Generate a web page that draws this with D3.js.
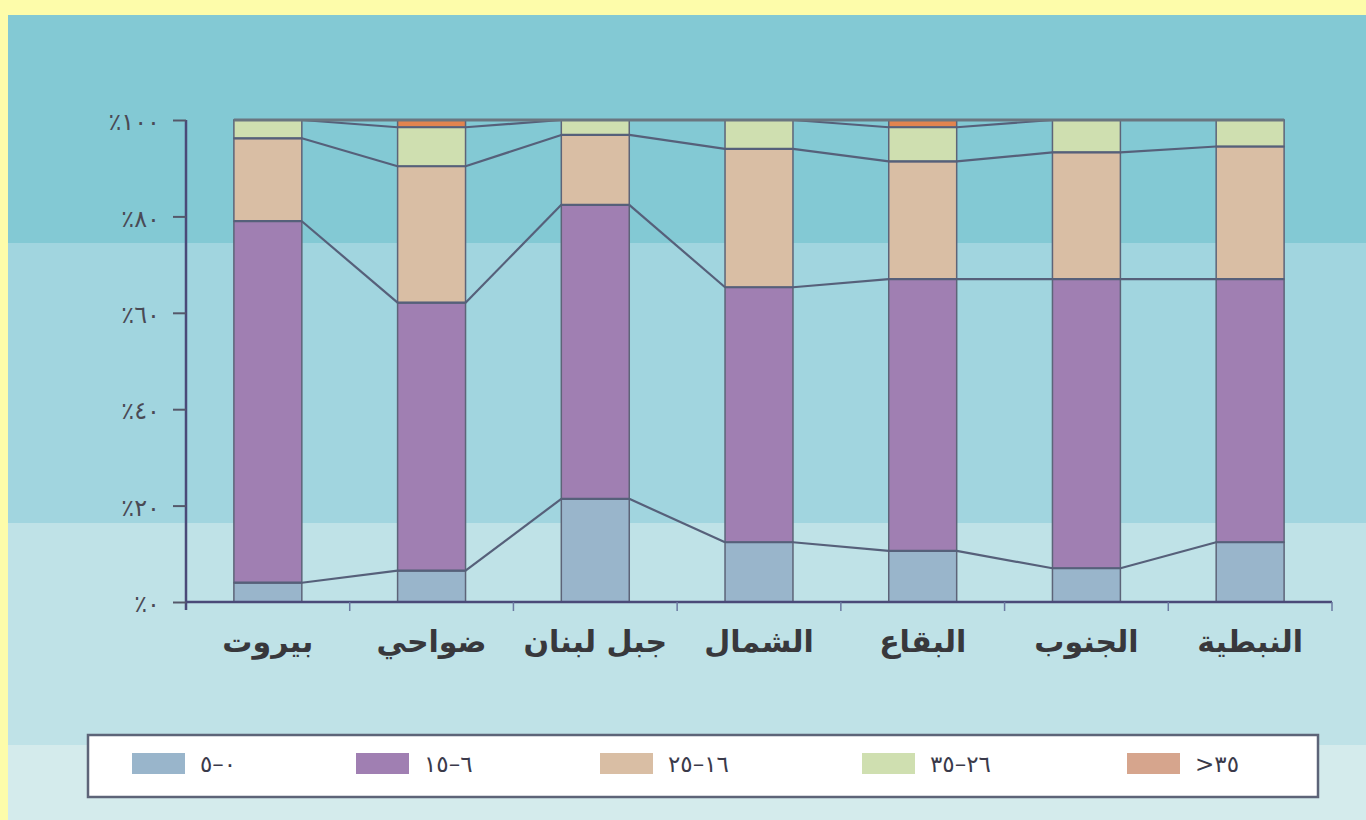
<!DOCTYPE html>
<html>
<head>
<meta charset="utf-8">
<script src="https://cdn.jsdelivr.net/npm/d3@7"></script>
<style>
  html, body { margin: 0; padding: 0; background: #fdfcaa; }
  svg { display: block; }
</style>
</head>
<body>
<div id="chart"></div>
<script>
// regions (left to right as drawn)
var regions = ["بيروت", "ضواحي", "جبل لبنان", "الشمال", "البقاع", "الجنوب", "النبطية"];

// share of each age group, in percent
var age0to5   = [4.0, 6.5, 21.4, 12.4, 10.6, 7.0, 12.4];
var age6to15  = [75.0, 55.6, 61.0, 52.9, 56.4, 60.0, 54.6];
var age16to25 = [17.2, 28.3, 14.5, 28.7, 24.4, 26.3, 27.5];
var age26to35 = [3.8, 8.1, 3.1, 6.0, 7.1, 6.7, 5.5];
var age35plus = [0, 1.5, 0, 0, 1.5, 0, 0];

var seriesKeys = ["a", "b", "c", "d", "e"];
var legendLabels = ["٥–٠", "١٥–٦", "٢٥–١٦", "٣٥–٢٦", ">٣٥"];
var yTicks = [0, 20, 40, 60, 80, 100];
var yTickLabels = ["٪٠", "٪٢٠", "٪٤٠", "٪٦٠", "٪٨٠", "٪١٠٠"];

var barColors = ["#99b5cb", "#a07fb2", "#d9bea4", "#cfdfb0", "#e2844f"];
var swatchColors = ["#99b5cb", "#a07fb2", "#d9bea4", "#cfdfb0", "#d6a58d"];

(function() {
  var W = 1366, H = 820;

  var rows = regions.map(function(r, i) {
    return {region: r, a: age0to5[i], b: age6to15[i], c: age16to25[i], d: age26to35[i], e: age35plus[i]};
  });
  var stacked = d3.stack().keys(seriesKeys)(rows);

  var svg = d3.select("#chart").append("svg")
    .attr("width", W).attr("height", H);

  // background panel with horizontal bands
  var bands = [
    {y0: 15, y1: 243, c: "#83c9d4"},
    {y0: 243, y1: 523, c: "#a1d5df"},
    {y0: 523, y1: 745, c: "#bfe2e7"},
    {y0: 745, y1: 820, c: "#d4ebec"}
  ];
  svg.selectAll("rect.band").data(bands).enter().append("rect")
    .attr("class", "band")
    .attr("x", 8).attr("y", function(d) { return d.y0; })
    .attr("width", W - 8).attr("height", function(d) { return d.y1 - d.y0; })
    .attr("fill", function(d) { return d.c; });

  var plotL = 186, plotR = 1332, plotT = 120, plotB = 602;

  var x = d3.scaleBand().domain(regions).range([plotL, plotR])
    .paddingInner(0.585).paddingOuter(0.2925);
  var y = d3.scaleLinear().domain([0, 100]).range([plotB, plotT]);
  var bw = x.bandwidth();
  var step = x.step();

  var g = svg.append("g");

  // bars
  stacked.forEach(function(s, k) {
    g.selectAll("rect.s" + k).data(s).enter().append("rect")
      .attr("class", "s" + k)
      .attr("x", function(d) { return x(d.data.region); })
      .attr("y", function(d) { return y(d[1]); })
      .attr("width", bw)
      .attr("height", function(d) { return Math.max(0, y(d[0]) - y(d[1])); })
      .attr("fill", barColors[k])
      .attr("stroke", "#5d6478")
      .attr("stroke-width", 1.5);
  });

  // connector lines between neighbouring bars
  stacked.forEach(function(s) {
    for (var i = 0; i < s.length - 1; i++) {
      var a = s[i], b = s[i + 1];
      g.append("line")
        .attr("x1", x(a.data.region) + bw).attr("y1", y(a[1]))
        .attr("x2", x(b.data.region)).attr("y2", y(b[1]))
        .attr("stroke", "#56607a")
        .attr("stroke-width", 2.2);
    }
  });

  // rule across each bar at each boundary
  stacked.forEach(function(s, k) {
    g.selectAll("line.h" + k).data(s).enter().append("line")
      .attr("class", "h" + k)
      .attr("x1", function(d) { return x(d.data.region); })
      .attr("x2", function(d) { return x(d.data.region) + bw; })
      .attr("y1", function(d) { return y(d[1]); })
      .attr("y2", function(d) { return y(d[1]); })
      .attr("stroke", "#56607a").attr("stroke-width", 2.2);
  });

  // top rule at 100%
  g.append("line")
    .attr("x1", x(regions[0])).attr("x2", x(regions[regions.length - 1]) + bw)
    .attr("y1", y(100)).attr("y2", y(100))
    .attr("stroke", "#6a7680").attr("stroke-width", 3);

  // y axis
  var yAxis = svg.append("g")
    .attr("transform", "translate(" + plotL + ",0)")
    .call(d3.axisLeft(y).tickValues(yTicks).tickSize(13)
      .tickFormat(function(d, i) { return yTickLabels[i]; }));
  yAxis.select(".domain").attr("stroke", "#4a4a78").attr("stroke-width", 2.5)
    .attr("d", "M0," + plotT + "V" + (plotB + 8));
  yAxis.selectAll(".tick line").attr("stroke", "#55586a").attr("stroke-width", 2);
  yAxis.selectAll(".tick text")
    .attr("x", -26)
    .attr("dy", "0.4em")
    .attr("fill", "#4a4a55")
    .style("font-family", "DejaVu Sans")
    .style("font-size", "24px")
    .style("letter-spacing", "3px")
    .style("direction", "ltr")
    .style("unicode-bidi", "bidi-override");

  // x axis
  var xAxis = svg.append("g");
  xAxis.append("line")
    .attr("x1", plotL).attr("x2", plotR)
    .attr("y1", plotB).attr("y2", plotB)
    .attr("stroke", "#4a4a78").attr("stroke-width", 2.5);
  var edges = regions.map(function(r) { return x(r) + bw / 2 - step / 2; });
  edges.push(plotR);
  xAxis.selectAll("line.tk").data(edges.slice(1)).enter().append("line")
    .attr("class", "tk")
    .attr("x1", function(d) { return d; }).attr("x2", function(d) { return d; })
    .attr("y1", plotB).attr("y2", plotB + 9)
    .attr("stroke", "#6a78a0").attr("stroke-width", 1.5);
  xAxis.selectAll("text").data(regions).enter().append("text")
    .attr("x", function(d) { return x(d) + bw / 2; })
    .attr("y", 652)
    .attr("text-anchor", "middle")
    .attr("fill", "#38383c")
    .style("font-family", "DejaVu Sans")
    .style("font-weight", "bold")
    .style("font-size", "30px")
    .text(function(d) { return d; });

  // legend
  var legend = svg.append("g");
  legend.append("rect")
    .attr("x", 88).attr("y", 735).attr("width", 1230).attr("height", 62)
    .attr("fill", "#ffffff").attr("stroke", "#5d6478").attr("stroke-width", 2.5);
  var legendX = [132, 356, 600, 862, 1127];
  var items = legend.selectAll("g.item").data(legendLabels).enter().append("g")
    .attr("class", "item")
    .attr("transform", function(d, i) { return "translate(" + legendX[i] + ",753)"; });
  items.append("rect")
    .attr("width", 53).attr("height", 21)
    .attr("fill", function(d, i) { return swatchColors[i]; });
  items.append("text")
    .attr("x", 68).attr("y", 19)
    .attr("fill", "#3a3a4a")
    .style("font-family", "DejaVu Sans")
    .style("font-size", "23px")
    .style("letter-spacing", "4px")
    .style("direction", "ltr")
    .style("unicode-bidi", "bidi-override")
    .text(function(d) { return d; });
})();
</script>
</body>
</html>
